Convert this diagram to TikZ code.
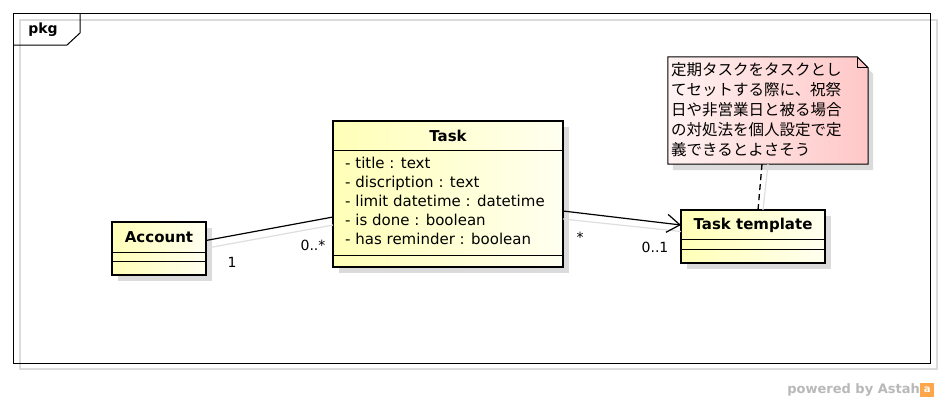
\documentclass[tikz,border=0pt]{standalone}
\usepackage{fontspec}
\setmainfont{DejaVu Sans}
\newfontfamily\jpfont{Noto Sans CJK JP}
\usetikzlibrary{arrows.meta, positioning, shadows}

\begin{document}
\begin{tikzpicture}[x=1pt, y=-1pt,
    classbox/.style = {draw, line width=2.6pt, inner sep=0pt, outer sep=0pt,
        left color=yellow!28, right color=yellow!6,
        drop shadow={shadow xshift=6pt, shadow yshift=-6pt, fill=black!14, opacity=1}},
    sepline/.style = {line width=1pt},
    umltext/.style = {font=\fontsize{15}{19}\selectfont, inner sep=0pt},
    umlbold/.style = {font=\bfseries\fontsize{15}{19}\selectfont, inner sep=0pt},
    mult/.style = {font=\fontsize{14}{17}\selectfont, inner sep=0pt},
    shadowline/.style = {draw=black!13, line width=1.2pt},
    assoc/.style = {line width=1.2pt}
]
\useasboundingbox (0,0) rectangle (942,402);

% frame
\draw[draw=black!14, line width=1.2pt] (20,20) rectangle (937,369);
\draw[line width=1pt] (13,13) rectangle (930,363);
\draw[line width=1pt] (13,45) -- (67,45) -- (80,33) -- (80,13);
\node (pkg) [umlbold, font=\bfseries\fontsize{14}{17}\selectfont] at (43,30) {pkg};

% classes
\node (acc) [classbox, minimum width=94pt, minimum height=53pt] at (159,248.5) {};
\node (task) [classbox, minimum width=230pt, minimum height=146pt] at (448,194) {};
\node (tmpl) [classbox, minimum width=144pt, minimum height=53pt] at (753,236.5) {};

\draw[sepline] ([yshift=-30pt]acc.north west) -- ([yshift=-30pt]acc.north east);
\draw[sepline] ([yshift=-39pt]acc.north west) -- ([yshift=-39pt]acc.north east);
\draw[sepline] ([yshift=-29pt]task.north west) -- ([yshift=-29pt]task.north east);
\draw[sepline] ([yshift=12pt]task.south west) -- ([yshift=12pt]task.south east);
\draw[sepline] ([yshift=-29pt]tmpl.north west) -- ([yshift=-29pt]tmpl.north east);
\draw[sepline] ([yshift=-39pt]tmpl.north west) -- ([yshift=-39pt]tmpl.north east);

\node (acctitle) [umlbold] at (159,237) {Account};
\node (tasktitle) [umlbold] at (448,136) {Task};
\node (tmpltitle) [umlbold] at (753,225) {Task template};
\node (attrs) [umltext, align=left, anchor=north west] at (345,157) {%
    - title : text\\
    - discription : text\\
    - limit datetime : datetime\\
    - is done : boolean\\
    - has reminder : boolean};

% note
\node (note) [minimum width=200pt, minimum height=107pt, inner sep=0pt] at (768,110.5) {};
\path[left color=red!5, right color=red!22,
      drop shadow={shadow xshift=5pt, shadow yshift=-6pt, fill=black!14, opacity=1}]
    (note.north west) -- ([xshift=-11pt]note.north east) -- ([yshift=-11pt]note.north east)
    -- (note.south east) -- (note.south west) -- cycle;
\draw[line width=1pt] (note.north west) -- ([xshift=-11pt]note.north east)
    -- ([yshift=-11pt]note.north east) -- (note.south east) -- (note.south west) -- cycle;
\draw[line width=1pt] ([xshift=-11pt]note.north east) -- ([xshift=-11pt, yshift=-11pt]note.north east)
    -- ([yshift=-11pt]note.north east);
\node (notetext) [anchor=north west, align=left, inner sep=0pt,
      font=\jpfont\fontsize{15.5}{20}\selectfont] at (671,62) {%
    定期タスクをタスクとし\\
    てセットする際に、祝祭\\
    日や非営業日と被る場合\\
    の対処法を個人設定で定\\
    義できるとよさそう};

% connectors
\draw[shadowline] ([xshift=4pt, yshift=1pt]acc.east) -- ([yshift=-31pt]task.west);
\draw[assoc] ([yshift=8pt]acc.east) -- ([yshift=-23pt]task.west);
\draw[shadowline] ([yshift=-25pt]task.east) -- ([yshift=5pt]tmpl.west);
\draw[assoc, -{Straight Barb[length=13pt, width=18pt]}] ([yshift=-17pt]task.east) -- ([yshift=11.5pt]tmpl.west);
\draw[shadowline] ([xshift=0pt]note.south) -- ([xshift=10pt]tmpl.north);
\draw[line width=1.3pt, dash pattern=on 6pt off 4pt] ([xshift=-6pt]note.south) -- ([xshift=5pt]tmpl.north);

\node (m1) [mult] at (232,262) {1};
\node (m2) [mult] at (313,245) {0..*};
\node (m3) [mult] at (580,237) {*};
\node (m4) [mult] at (655,247) {0..1};

% footer
\node (powered) [font=\bfseries\fontsize{13}{15}\selectfont, text=black!28, inner sep=0pt, anchor=east] at (920,390) {powered by Astah};
\node (logo) [fill=orange!70, minimum size=14pt, inner sep=0pt, anchor=west,
      font=\bfseries\fontsize{10}{10}\selectfont, text=white] at (powered.east) {a};
\end{tikzpicture}
\end{document}
